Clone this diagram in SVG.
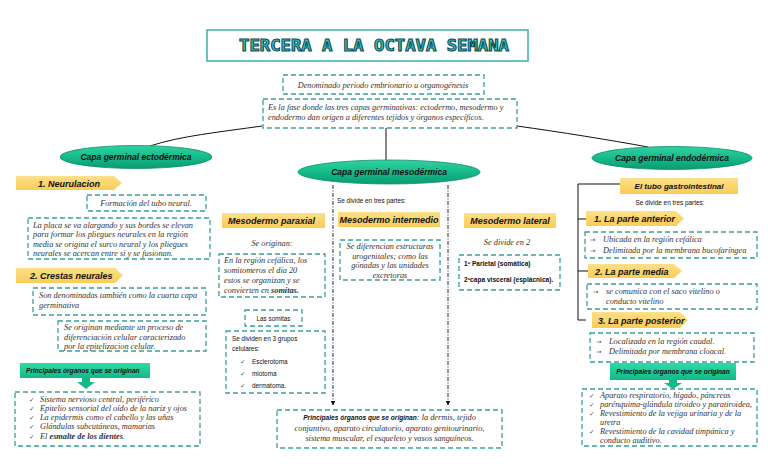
<svg xmlns="http://www.w3.org/2000/svg" width="768" height="466" viewBox="0 0 768 466">
<defs>
<linearGradient id="gEll" x1="0" y1="0" x2="0" y2="1">
<stop offset="0" stop-color="#2fd3a0"/><stop offset="0.6" stop-color="#12b585"/><stop offset="1" stop-color="#0b9a70"/>
</linearGradient>
<linearGradient id="gYel" x1="0" y1="0" x2="0" y2="1">
<stop offset="0" stop-color="#fde08a"/><stop offset="1" stop-color="#f9cc55"/>
</linearGradient>
<linearGradient id="gGrn" x1="0" y1="0" x2="0" y2="1">
<stop offset="0" stop-color="#2ddba6"/><stop offset="1" stop-color="#13b988"/>
</linearGradient>
<marker id="arr" viewBox="0 0 10 10" refX="9" refY="5" markerWidth="5" markerHeight="5" orient="auto">
<path d="M0,0 L10,5 L0,10 z" fill="#111"/>
</marker>
</defs>
<style>
.dash{fill:#fff;stroke:#3a9f9b;stroke-width:1.3;stroke-dasharray:5,3}
.ell{fill:url(#gEll);stroke:#0d8f68;stroke-width:0.8}
.yel{fill:url(#gYel)}
.grn{fill:url(#gGrn)}
.hd{font-family:"Liberation Sans",Arial,sans-serif;font-weight:bold;font-style:italic;font-size:9px;fill:#111}
.ehd{font-family:"Liberation Sans",Arial,sans-serif;font-style:italic;font-size:8.5px;fill:#111;font-weight:bold}
.it{font-family:"Liberation Serif","Times New Roman",serif;font-style:italic;font-size:8.3px;fill:#333}
.sm{font-family:"Liberation Sans",Arial,sans-serif;font-size:6.4px;fill:#111}
.smb{font-family:"Liberation Sans",Arial,sans-serif;font-size:6.6px;fill:#111;font-weight:bold}
.pr{font-family:"Liberation Sans",Arial,sans-serif;font-style:italic;font-weight:bold;font-size:6.6px;fill:#111}
.gi{font-family:"Liberation Sans",Arial,sans-serif;font-style:italic;font-weight:bold;font-size:8px;fill:#111}
.ck{font-family:"DejaVu Sans",sans-serif;font-size:6.5px;fill:#444}
.ln{fill:none;stroke:#111;stroke-width:1}
.dd{fill:none;stroke:#111;stroke-width:0.9;stroke-dasharray:4,1.5,1,1.5}
</style>
<rect width="768" height="466" fill="#fff"/>

<g id="title">
<rect x="207" y="30" width="321" height="31" fill="#fff" stroke="#3aaeb0" stroke-width="1.5"/>
<text x="374" y="51" text-anchor="middle" font-family="DejaVu Sans Mono,monospace" font-weight="bold" font-size="15" fill="#3fc9c9" stroke="#0b4b50" stroke-width="1" textLength="270" lengthAdjust="spacingAndGlyphs">TERCERA A LA OCTAVA SEMANA</text>
</g>

<g id="connectors">
<path class="ln" d="M386,128 L386,160"/>
<path class="ln" d="M262,126 C220,132 180,136 150,146"/>
<path class="ln" d="M517,126 C560,132 610,140 648,147"/>
<path class="dd" d="M333,185 L333,405" marker-end="url(#arr)"/>
<path class="dd" d="M448,185 L448,405" marker-end="url(#arr)"/>
<path class="ln" d="M620,184 L578,184 L578,320 L586,320 M578,219 L586,219 M578,271 L588,271"/>
</g>

<g id="intro1">
<rect class="dash" x="283" y="75" width="201" height="19"/>
<text class="it" x="383" y="87.5" text-anchor="middle">Denominado periodo embrionario u  organogénesis</text>
</g>
<g id="intro2">
<rect class="dash" x="263" y="99" width="254" height="29"/>
<text class="it" x="268" y="110">Es la fase donde las tres capas germinativas: ectodermo, mesodermo y</text>
<text class="it" x="268" y="120">endodermo dan origen  a diferentes tejidos y órganos específicos.</text>
</g>

<!-- Ectodermo -->
<g id="ecto">
<ellipse class="ell" cx="136" cy="157" rx="76" ry="11.5"/>
<text class="ehd" x="136" y="160" text-anchor="middle">Capa germinal ectodérmica</text>
</g>
<g id="neurulacion">
<polygon class="yel" points="16,176 114,176 122,183 114,190 16,190"/>
<text class="hd" x="38" y="186.5">1. Neurulacion</text>
</g>
<g id="tubo-neural">
<rect class="dash" x="87" y="195" width="119" height="16"/>
<text class="it" x="146" y="206" text-anchor="middle">Formación del tubo neural.</text>
</g>
<g id="placa">
<rect class="dash" x="28" y="218" width="182" height="41"/>
<text class="it" x="33" y="227.5">La placa se va alargando y sus bordes se elevan</text>
<text class="it" x="33" y="237">para formar los pliegues neurales en la región</text>
<text class="it" x="33" y="246.5">media se origina el surco neural y los pliegues</text>
<text class="it" x="33" y="256">neurales se acercan entre si y se fusionan.</text>
</g>
<g id="crestas">
<polygon class="yel" points="16,268 115,268 123,275.5 115,283 16,283"/>
<text class="hd" x="30" y="279">2. Crestas neurales</text>
</g>
<g id="cuarta">
<rect class="dash" x="33" y="288" width="173" height="27"/>
<text class="it" x="39" y="298">Son denominadas también como la cuarta capa</text>
<text class="it" x="39" y="307.5">germinativa</text>
</g>
<g id="originan-crestas">
<rect class="dash" x="58" y="321" width="148" height="30"/>
<text class="it" x="64" y="330">Se originan mediante un proceso de</text>
<text class="it" x="64" y="339.5">diferenciación celular caracterizado</text>
<text class="it" x="64" y="349">por la epitelizacion celular.</text>
</g>
<g id="principales-ecto">
<rect class="grn" x="20" y="363" width="130" height="15"/>
<text class="pr" x="26" y="373">Principales órganos que se originan</text>
<path d="M82,378 h8 v4 h5 l-9,7 l-9,-7 h5 z" fill="#13b988"/>
</g>
<g id="lista-ecto">
<rect class="dash" x="15" y="392" width="185" height="54"/>
<text class="ck" x="29" y="402">✓</text><text class="it" x="40" y="402">Sistema nervioso central, periférico</text>
<text class="ck" x="29" y="411">✓</text><text class="it" x="40" y="411">Epitelio sensorial del oído de la nariz y ojos</text>
<text class="ck" x="29" y="420">✓</text><text class="it" x="40" y="420">La epidermis como el cabello y las uñas</text>
<text class="ck" x="29" y="429">✓</text><text class="it" x="40" y="429">Glándulas subcutáneas, mamarias</text>
<text class="ck" x="29" y="438.5">✓</text><text class="it" x="40" y="438.5">El <tspan font-weight="bold">esmalte de los dientes</tspan>.</text>
</g>

<!-- Mesodermo -->
<g id="meso">
<ellipse class="ell" cx="389" cy="172" rx="91" ry="12"/>
<text class="ehd" x="389" y="175" text-anchor="middle">Capa germinal mesodérmica</text>
</g>
<text class="sm" x="337" y="203">Se divide en tres partes:</text>
<g id="paraxial">
<rect class="yel" x="222" y="213" width="103" height="15"/>
<text class="hd" x="228" y="224">Mesodermo paraxial</text>
</g>
<text class="it" x="272" y="246" text-anchor="middle">Se originan:</text>
<g id="cefalica">
<rect class="dash" x="219" y="254" width="106" height="43"/>
<text class="it" x="224" y="263">En la región cefálica, los</text>
<text class="it" x="224" y="273">somitomeros el día 20</text>
<text class="it" x="224" y="283">estos se organizan y  se</text>
<text class="it" x="224" y="293">convierten en <tspan font-weight="bold">somitas.</tspan></text>
</g>
<g id="las-somitas">
<rect class="dash" x="245" y="310" width="57" height="16"/>
<text class="sm" x="273.5" y="320.5" text-anchor="middle">Las somitas</text>
</g>
<g id="grupos">
<rect class="dash" x="226" y="331" width="99" height="62"/>
<text class="sm" x="232" y="341">Se dividen en 3 grupos</text>
<text class="sm" x="232" y="351">celulares:</text>
<text class="ck" x="240" y="364">✓</text><text class="sm" x="252" y="364">Esclerotoma</text>
<text class="ck" x="240" y="376">✓</text><text class="sm" x="252" y="376">miotoma</text>
<text class="ck" x="240" y="388">✓</text><text class="sm" x="252" y="388">dermatoma.</text>
</g>
<g id="intermedio">
<rect class="yel" x="338" y="212" width="102" height="15"/>
<text class="hd" x="389" y="223" text-anchor="middle">Mesodermo intermedio</text>
</g>
<g id="urogenitales">
<rect class="dash" x="340" y="240" width="100" height="40"/>
<text class="it" x="390" y="249" text-anchor="middle">Se diferencian estructuras</text>
<text class="it" x="390" y="258.5" text-anchor="middle">urogenitales; como las</text>
<text class="it" x="390" y="268" text-anchor="middle">gónadas y las unidades</text>
<text class="it" x="390" y="277.5" text-anchor="middle">excretoras</text>
</g>
<g id="lateral">
<rect class="yel" x="464" y="213" width="92" height="15"/>
<text class="hd" x="510" y="224" text-anchor="middle">Mesodermo lateral</text>
</g>
<text class="it" x="507" y="245" text-anchor="middle">Se divide en 2</text>
<g id="parietal">
<rect class="dash" x="459" y="255" width="101" height="35"/>
<text class="smb" x="464" y="266">1º Parietal (somática)</text>
<text class="smb" x="464" y="282">2ºcapa visceral (esplácnica).</text>
</g>
<g id="principales-meso">
<rect class="dash" x="277" y="410" width="225" height="38"/>
<text x="389.5" y="420" text-anchor="middle"><tspan class="pr">Principales órganos que se originan</tspan><tspan class="it">: la dermis, tejido</tspan></text>
<text class="it" x="389.5" y="430.5" text-anchor="middle">conjuntivo, aparato circulatorio, aparato genitourinario,</text>
<text class="it" x="389.5" y="441" text-anchor="middle">sistema muscular, el esqueleto y vasos sanguíneos.</text>
</g>

<!-- Endodermo -->
<g id="endo">
<ellipse class="ell" cx="672" cy="158" rx="80" ry="11.5"/>
<text class="ehd" x="672" y="161" text-anchor="middle">Capa germinal endodérmica</text>
</g>
<g id="tubo-gi">
<rect class="yel" x="620" y="178" width="118" height="16"/>
<text class="gi" x="679" y="189" text-anchor="middle">El tubo gastrointestinal</text>
</g>
<text class="sm" x="670" y="205" text-anchor="middle">Se divide en tres partes:</text>
<g id="anterior">
<polygon class="yel" points="586,211 676,211 684,218.5 676,226 586,226"/>
<text class="hd" x="594" y="222">1. La parte anterior</text>
</g>
<g id="anterior-box">
<rect class="dash" x="585" y="232" width="172" height="26"/>
<text class="ck" x="590" y="242">→</text><text class="it" x="603" y="242">Ubicada en la región cefálica</text>
<text class="ck" x="590" y="252.5">→</text><text class="it" x="603" y="252.5">Delimitada por la membrana bucofaríngea</text>
</g>
<g id="media">
<polygon class="yel" points="588,264 674,264 682,271 674,278 588,278"/>
<text class="hd" x="595" y="274.5">2. La parte media</text>
</g>
<g id="media-box">
<rect class="dash" x="587" y="284" width="170" height="25"/>
<text class="ck" x="593" y="294">→</text><text class="it" x="606" y="294">se comunica con el saco vitelino o</text>
<text class="it" x="606" y="304">conducto vitelino</text>
</g>
<g id="posterior">
<polygon class="yel" points="592,312 680,312 688,320 680,328 592,328"/>
<text class="hd" x="598" y="323.5">3. La parte posterior</text>
</g>
<g id="posterior-box">
<rect class="dash" x="590" y="333" width="164" height="29"/>
<text class="ck" x="596" y="343.5">→</text><text class="it" x="609" y="343.5">Localizada en la región caudal.</text>
<text class="ck" x="596" y="354">→</text><text class="it" x="609" y="354">Delimitada por membrana cloacal.</text>
</g>
<g id="principales-endo">
<rect class="grn" x="610" y="363" width="126" height="17"/>
<text class="pr" x="673" y="374" text-anchor="middle">Principales órganos que se originan</text>
<path d="M669,380 h8 v3 h5 l-9,6 l-9,-6 h5 z" fill="#13b988"/>
</g>
<g id="lista-endo">
<rect class="dash" x="582" y="389" width="175" height="57"/>
<text class="ck" x="589" y="398">✓</text><text class="it" x="600" y="398">Aparato respiratorio, hígado, páncreas</text>
<text class="ck" x="589" y="407">✓</text><text class="it" x="600" y="407">parénquima-glándula tiroideo y paratiroidea,</text>
<text class="ck" x="589" y="416">✓</text><text class="it" x="600" y="416">Revestimiento de la vejiga urinaria y de la</text>
<text class="it" x="600" y="425">uretra</text>
<text class="ck" x="589" y="434">✓</text><text class="it" x="600" y="434">Revestimiento de la cavidad timpánica y</text>
<text class="it" x="600" y="443">conducto auditivo.</text>
</g>
</svg>
